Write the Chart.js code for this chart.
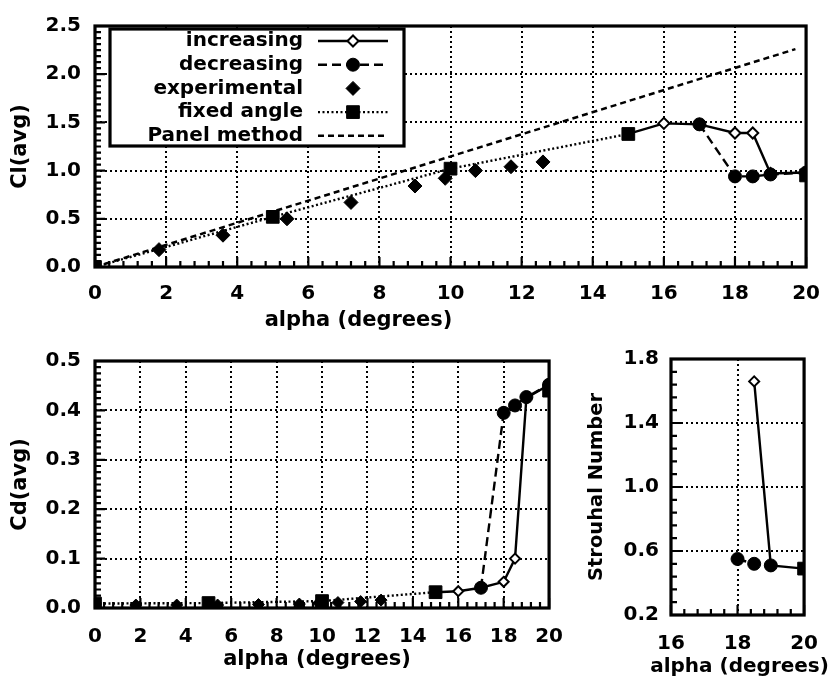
<!DOCTYPE html>
<html><head><meta charset="utf-8">
<script src="https://cdn.jsdelivr.net/npm/chart.js@4/dist/chart.umd.min.js"></script>
<style>
html,body{margin:0;padding:0;background:#fff;}
#wrap{position:relative;width:835px;height:680px;overflow:hidden;background:#fff;}
canvas{position:absolute;}
</style></head><body>
<div id="wrap">
<canvas id="cl" width="835" height="335" style="left:0;top:0"></canvas>
<canvas id="cd" width="580" height="345" style="left:0;top:335px"></canvas>
<canvas id="st" width="255" height="345" style="left:580px;top:335px"></canvas>
</div>
<script>
// ---------- data ----------
const seriesLabels = ['increasing', 'decreasing', 'experimental', 'fixed angle', 'Panel method'];

const alphaInc = [15, 16, 17, 18, 18.5, 19, 20];
const alphaDec = [17, 18, 18.5, 19, 20];
const alphaExp = [1.8, 3.6, 5.4, 7.2, 9.0, 9.85, 10.7, 11.7, 12.6];
const alphaFixed = [0, 5, 10, 15, 20];
const alphaPanel = [0, 19.7];

const clInc = [1.38, 1.49, 1.48, 1.39, 1.39, 0.97, 0.98];
const clDec = [1.48, 0.94, 0.94, 0.96, 0.98];
const clExp = [0.18, 0.33, 0.50, 0.67, 0.84, 0.92, 1.00, 1.04, 1.09];
const clFixed = [0.0, 0.52, 1.02, 1.38, 0.95];
const clPanel = [0.0, 2.26];

const cdInc = [0.032, 0.034, 0.041, 0.053, 0.100, 0.425, 0.452];
const cdDec = [0.041, 0.395, 0.410, 0.427, 0.452];
const cdExp = [0.006, 0.006, 0.006, 0.007, 0.008, 0.010, 0.011, 0.013, 0.016];
const cdFixed = [0.009, 0.010, 0.014, 0.032, 0.440];

const stAlphaInc = [18.5, 19, 20];
const stAlphaDec = [18, 18.5, 19];
const stAlphaFixed = [20];
const stInc = [1.66, 0.51, 0.49];
const stDec = [0.55, 0.52, 0.51];
const stFixed = [0.49];

const clTicksY = [0, 2.5, 0.5];
const cdTicksY = [0, 0.5, 0.1];
const stTicksY = [0.2, 1.8, 0.4];
const alphaTicks = [0, 20, 2];
const stAlphaTicks = [16, 20, 2];

// ---------- styling ----------
const FONT = 'DejaVu Sans';
Chart.defaults.font.family = FONT;
Chart.defaults.font.size = 20;
Chart.defaults.font.weight = 'bold';
Chart.defaults.color = '#000';

function pts(xs, ys) { return xs.map((x, i) => ({ x: x, y: ys[i] })); }

function mk(label, xs, ys, st) {
  return Object.assign({
    label: label, data: pts(xs, ys), borderColor: '#000', backgroundColor: '#000',
    pointBorderColor: '#000', pointBackgroundColor: '#000', pointBorderWidth: 1,
    borderWidth: 2.4, tension: 0, fill: false
  }, st);
}

function incStyle(hideIdx, r) {
  return { pointStyle: 'rectRot', pointBackgroundColor: '#fff', pointBorderWidth: 2,
    pointRadius: c => hideIdx.includes(c.dataIndex) ? 0 : r, legendRadius: r, borderDash: [], order: 3 };
}
function decStyle(r) { return { pointStyle: 'circle', pointRadius: r, legendRadius: r, borderDash: [9, 5], order: 2 }; }
function expStyle(r) { return { pointStyle: 'rectRot', pointRadius: r, legendRadius: r, showLine: false, order: 4 }; }
function fixStyle(r, n) {
  return { pointStyle: 'rect', pointRadius: r, legendRadius: r, borderDash: [2, 2.5], order: 1,
    segment: { borderColor: c => c.p1DataIndex === n - 1 ? 'rgba(0,0,0,0)' : '#000' } };
}
const panStyle = { pointRadius: 0, borderDash: [6, 4], borderWidth: 2.5, order: 5, legendMarker: false };

function drawMarker(ctx, style, x, y, r, fill, stroke, bw) {
  ctx.save(); ctx.setLineDash([]); ctx.beginPath();
  if (style === 'circle') ctx.arc(x, y, r, 0, Math.PI * 2);
  else if (style === 'rect') { const s = r * Math.SQRT1_2; ctx.rect(x - s, y - s, 2 * s, 2 * s); }
  else { ctx.moveTo(x - r, y); ctx.lineTo(x, y - r); ctx.lineTo(x + r, y); ctx.lineTo(x, y + r); ctx.closePath(); }
  ctx.fillStyle = fill; ctx.fill(); ctx.lineWidth = bw; ctx.strokeStyle = stroke; ctx.stroke();
  ctx.restore();
}

const framePlugin = {
  id: 'frame',
  beforeDatasetsDraw(chart, args, o) {
    const ctx = chart.ctx, a = chart.chartArea, xs = chart.scales.x, ys = chart.scales.y;
    ctx.save(); ctx.strokeStyle = '#000'; ctx.setLineDash([]); ctx.lineWidth = 2.2;
    ctx.beginPath();
    const nx = Math.round((xs.max - xs.min) / o.xMinor);
    for (let i = 0; i <= nx; i++) {
      const px = xs.getPixelForValue(xs.min + i * o.xMinor);
      const len = i % o.xPer === 0 ? o.major : o.minor;
      ctx.moveTo(px, a.bottom); ctx.lineTo(px, a.bottom - len);
    }
    const ny = Math.round((ys.max - ys.min) / o.yMinor);
    for (let i = 0; i <= ny; i++) {
      const py = ys.getPixelForValue(ys.min + i * o.yMinor);
      const len = i % o.yPer === 0 ? o.major : o.minor;
      ctx.moveTo(a.left, py); ctx.lineTo(a.left + len, py);
    }
    ctx.stroke();
    ctx.lineWidth = 3.2;
    ctx.strokeRect(a.left, a.top, a.right - a.left, a.bottom - a.top);
    ctx.fillStyle = '#000'; ctx.font = 'bold ' + o.xTitleSize + 'px "' + FONT + '"';
    ctx.textAlign = 'center'; ctx.textBaseline = 'middle';
    ctx.fillText(o.xTitle, (a.left + a.right) / 2 + o.xTitleDx, a.bottom + o.xTitleDy);
    ctx.font = 'bold ' + o.yTitleSize + 'px "' + FONT + '"';
    ctx.translate(a.left + o.yTitleDx, (a.top + a.bottom) / 2);
    ctx.rotate(-Math.PI / 2);
    ctx.fillText(o.yTitle, 0, 0);
    ctx.restore();
  }
};

const legendPlugin = {
  id: 'boxLegend',
  afterDraw(chart, args, o) {
    if (!o.display) return;
    const ctx = chart.ctx;
    ctx.save();
    ctx.fillStyle = '#fff'; ctx.fillRect(o.x, o.y, o.w, o.h);
    ctx.lineWidth = 3.2; ctx.strokeStyle = '#000'; ctx.setLineDash([]);
    ctx.strokeRect(o.x, o.y, o.w, o.h);
    ctx.font = 'bold 20px "' + FONT + '"'; ctx.textAlign = 'right'; ctx.textBaseline = 'middle';
    chart.data.datasets.forEach((d, i) => {
      const cy = o.firstY + i * o.rowH;
      ctx.fillStyle = '#000';
      ctx.fillText(d.label, o.textRight, cy);
      if (d.showLine !== false) {
        ctx.save(); ctx.setLineDash(d.borderDash || []); ctx.lineWidth = d.borderWidth;
        ctx.strokeStyle = '#000';
        ctx.beginPath(); ctx.moveTo(o.lineX0, cy); ctx.lineTo(o.lineX1, cy); ctx.stroke(); ctx.restore();
      }
      if (d.legendMarker !== false) {
        drawMarker(ctx, d.pointStyle, (o.lineX0 + o.lineX1) / 2, cy, d.legendRadius,
          d.pointBackgroundColor, '#000', d.pointBorderWidth);
      }
    });
    ctx.restore();
  }
};

function gridColor(c) {
  const n = c.scale.ticks.length;
  return (c.index === 0 || c.index === n - 1) ? 'rgba(0,0,0,0)' : '#000';
}

function makeScales(xt, yt, yw, xh, xpad, ypad) {
  return {
    x: { type: 'linear', min: xt[0], max: xt[1],
      ticks: { stepSize: xt[2], padding: xpad, maxRotation: 0, autoSkip: false, callback: v => String(v) },
      grid: { color: gridColor, lineWidth: 2, drawTicks: false },
      border: { display: false, dash: [2, 3] },
      afterFit: s => { s.height = xh; } },
    y: { type: 'linear', min: yt[0], max: yt[1],
      ticks: { stepSize: yt[2], padding: ypad, autoSkip: false, callback: v => v.toFixed(1) },
      grid: { color: gridColor, lineWidth: 2, drawTicks: false },
      border: { display: false, dash: [2, 3] },
      afterFit: s => { s.width = yw; } }
  };
}

function baseOptions(scales, padding, frame, legend) {
  return {
    responsive: false, animation: false, devicePixelRatio: 1, events: [],
    layout: { padding: padding },
    scales: scales,
    plugins: { legend: { display: false }, tooltip: { enabled: false },
      frame: frame, boxLegend: legend || { display: false } }
  };
}

// ---------- Cl chart ----------
new Chart(document.getElementById('cl'), {
  type: 'line',
  data: { datasets: [
    mk(seriesLabels[0], alphaInc, clInc, incStyle([0], 5.5)),
    mk(seriesLabels[1], alphaDec, clDec, decStyle(6.5)),
    mk(seriesLabels[2], alphaExp, clExp, expStyle(7)),
    mk(seriesLabels[3], alphaFixed, clFixed, fixStyle(9, alphaFixed.length)),
    mk(seriesLabels[4], alphaPanel, clPanel, panStyle)
  ] },
  options: baseOptions(makeScales(alphaTicks, clTicksY, 95, 68, 15, 14),
    { top: 15, right: 17, left: 0, bottom: 0 },
    { xMinor: 0.4, xPer: 5, yMinor: 0.0625, yPer: 8, major: 10, minor: 6,
      xTitle: 'alpha (degrees)', xTitleSize: 21, xTitleDx: -92, xTitleDy: 54,
      yTitle: 'Cl(avg)', yTitleSize: 21, yTitleDx: -74 },
    { display: true, x: 110, y: 29, w: 294, h: 117, textRight: 303, firstY: 41, rowH: 23.7, lineX0: 318, lineX1: 388 }),
  plugins: [framePlugin, legendPlugin]
});

// ---------- Cd chart ----------
new Chart(document.getElementById('cd'), {
  type: 'line',
  data: { datasets: [
    mk(seriesLabels[0], alphaInc, cdInc, incStyle([0], 5)),
    mk(seriesLabels[1], alphaDec, cdDec, decStyle(6.5)),
    mk(seriesLabels[2], alphaExp, cdExp, expStyle(6)),
    mk(seriesLabels[3], alphaFixed, cdFixed, fixStyle(9, alphaFixed.length))
  ] },
  options: baseOptions(makeScales(alphaTicks, cdTicksY, 95, 72, 17, 14),
    { top: 18, right: 29, left: 0, bottom: 0 },
    { xMinor: 0.4, xPer: 5, yMinor: 0.0125, yPer: 8, major: 10, minor: 6,
      xTitle: 'alpha (degrees)', xTitleSize: 21, xTitleDx: -5, xTitleDy: 52,
      yTitle: 'Cd(avg)', yTitleSize: 21, yTitleDx: -74 }),
  plugins: [framePlugin, legendPlugin]
});

// ---------- Strouhal chart ----------
new Chart(document.getElementById('st'), {
  type: 'line',
  data: { datasets: [
    mk(seriesLabels[0], stAlphaInc, stInc, incStyle([2], 5)),
    mk(seriesLabels[1], stAlphaDec, stDec, decStyle(6.5)),
    mk(seriesLabels[3], stAlphaFixed, stFixed, fixStyle(9, stAlphaFixed.length))
  ] },
  options: baseOptions(makeScales(stAlphaTicks, stTicksY, 91, 65, 17, 12),
    { top: 24, right: 18, left: 0, bottom: 0 },
    { xMinor: 0.4, xPer: 5, yMinor: 0.08, yPer: 5, major: 10, minor: 6,
      xTitle: 'alpha (degrees)', xTitleSize: 20, xTitleDx: 2, xTitleDy: 52,
      yTitle: 'Strouhal Number', yTitleSize: 19.5, yTitleDx: -74 }),
  plugins: [framePlugin, legendPlugin]
});
</script>
</body></html>
